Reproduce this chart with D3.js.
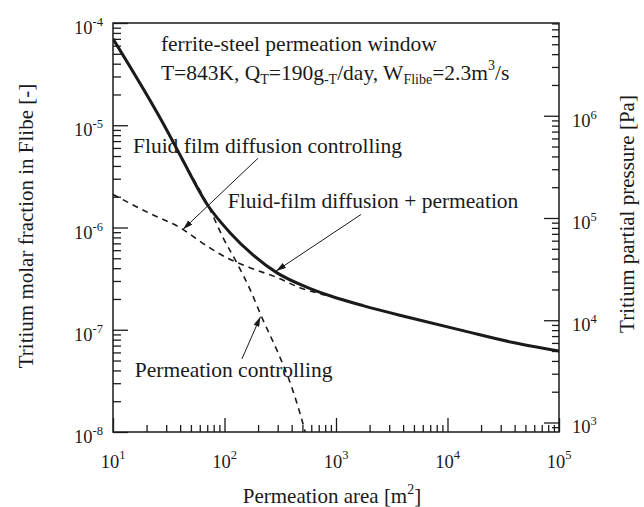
<!DOCTYPE html>
<html>
<head>
<meta charset="utf-8">
<script src="https://cdn.jsdelivr.net/npm/d3@7"></script>
<style>
  body { margin: 0; background: #fff; }
  text { font-family: "Liberation Serif", "Times New Roman", serif; fill: #1a1a1a; }
  .axis path { display: none; }
  .axis line { stroke: #1a1a1a; stroke-width: 1.3; }
</style>
</head>
<body>
<svg width="644" height="507"></svg>
<script>
// permeation area [m2]
var totalArea = [10, 30.5, 41.6, 71, 112, 180, 296, 550, 883, 1746, 4613, 13770, 38640, 100000];
var totalFrac = [7.0e-5, 8.9e-6, 4.7e-6, 1.64e-6, 8.9e-7, 5.4e-7, 3.6e-7, 2.6e-7, 2.15e-7, 1.72e-7, 1.31e-7, 9.8e-8, 7.5e-8, 6.2e-8];

// shallow dashed curve (fluid film diffusion)
var filmArea = [10, 21.5, 41.6, 64, 105, 169, 296, 475, 719, 1000, 1746, 4613, 13770, 38640, 100000];
var filmFrac = [2.1e-6, 1.37e-6, 9.7e-7, 7.0e-7, 5.05e-7, 4.05e-7, 3.24e-7, 2.58e-7, 2.25e-7, 2.06e-7, 1.72e-7, 1.31e-7, 9.8e-8, 7.5e-8, 6.2e-8];

// steep dashed curve (permeation)
var permArea = [41.6, 74, 97, 132, 169, 217, 302, 403, 475, 530];
var permFrac = [4.6e-6, 1.5e-6, 7.98e-7, 4.3e-7, 2.5e-7, 1.31e-7, 5.96e-8, 2.70e-8, 1.53e-8, 1.0e-8];

var xTickExp = [1, 2, 3, 4, 5];
var yLeftExp = [-8, -7, -6, -5, -4];
var yRightExp = [3, 4, 5, 6];

var svg = d3.select("svg");
var margin = {left: 113, top: 23, right: 85, bottom: 75};
var width = 644 - margin.left - margin.right,
    height = 507 - margin.top - margin.bottom;

var g = svg.append("g").attr("transform", `translate(${margin.left},${margin.top})`);

var x = d3.scaleLog().domain([10, 1e5]).range([0, width]);
var y = d3.scaleLog().domain([1e-8, 1e-4]).range([height, 0]);
var yR = d3.scaleLog().domain([Math.pow(10, 2.907), Math.pow(10, 6.907)]).range([height, 0]);

function isMajor(v) { return Math.abs(Math.log10(v) - Math.round(Math.log10(v))) < 1e-6; }

// ticks: majors longer than minors, all pointing inward
function drawTicks(axisFn, scale, cls, transform, majLen, minLen) {
  var all = scale.ticks();
  var maj = all.filter(isMajor), min = all.filter(d => !isMajor(d));
  g.append("g").attr("class", "axis " + cls).attr("transform", transform)
    .call(axisFn(scale).tickValues(maj).tickSize(-majLen).tickFormat(""));
  g.append("g").attr("class", "axis " + cls).attr("transform", transform)
    .call(axisFn(scale).tickValues(min).tickSize(-minLen).tickFormat(""));
}
drawTicks(d3.axisLeft, y, "yl", "translate(0,0)", 15, 8);
drawTicks(d3.axisRight, yR, "yr", `translate(${width},0)`, 15, 7);
drawTicks(d3.axisBottom, x, "xb", `translate(0,${height})`, 14, 7);

g.append("rect").attr("width", width).attr("height", height)
  .attr("fill", "none").attr("stroke", "#1a1a1a").attr("stroke-width", 1.5);

// tick labels with superscript exponents
g.selectAll(".ylab").data(yLeftExp).enter().append("text")
  .attr("x", -10).attr("y", d => y(Math.pow(10, d)) + 11)
  .attr("text-anchor", "end").style("font-size", "18.5px")
  .each(function(d) {
    var t = d3.select(this);
    t.append("tspan").text("10");
    t.append("tspan").attr("dy", -8).style("font-size", "12.5px").text(d);
  });

g.selectAll(".yrlab").data(yRightExp).enter().append("text")
  .attr("x", width + 13).attr("y", d => yR(Math.pow(10, d)) + 11)
  .style("font-size", "18.5px")
  .each(function(d) {
    var t = d3.select(this);
    t.append("tspan").text("10");
    t.append("tspan").attr("dy", -8).style("font-size", "12.5px").text(d);
  });

g.selectAll(".xlab").data(xTickExp).enter().append("text")
  .attr("x", d => x(Math.pow(10, d))).attr("y", height + 36)
  .attr("text-anchor", "middle").style("font-size", "18.5px")
  .each(function(d) {
    var t = d3.select(this);
    t.append("tspan").text("10");
    t.append("tspan").attr("dy", -9).style("font-size", "12.5px").text(d);
  });

// axis titles
var xt = svg.append("text").attr("x", 332).attr("y", 503).attr("text-anchor", "middle").style("font-size", "21px");
xt.append("tspan").text("Permeation area [m");
xt.append("tspan").attr("dy", -9).style("font-size", "14px").text("2");
xt.append("tspan").attr("dy", 9).text("]");

svg.append("text").attr("transform", "translate(33,226) rotate(-90)")
  .attr("text-anchor", "middle").style("font-size", "21px")
  .text("Tritium molar fraction in Flibe [-]");

svg.append("text").attr("transform", "translate(634,214) rotate(-90)")
  .attr("text-anchor", "middle").style("font-size", "21px")
  .text("Tritium partial pressure [Pa]");

// curves
var clip = svg.append("clipPath").attr("id", "plotclip");
clip.append("rect").attr("width", width).attr("height", height);
var plot = g.append("g").attr("clip-path", "url(#plotclip)");

var line = d3.line().x(d => x(d[0])).y(d => y(d[1])).curve(d3.curveMonotoneX);

plot.append("path").datum(d3.zip(filmArea, filmFrac)).attr("d", line)
  .attr("fill", "none").attr("stroke", "#1a1a1a").attr("stroke-width", 1.6).attr("stroke-dasharray", "6,5");
plot.append("path").datum(d3.zip(permArea, permFrac)).attr("d", line)
  .attr("fill", "none").attr("stroke", "#1a1a1a").attr("stroke-width", 1.6).attr("stroke-dasharray", "6,5");
plot.append("path").datum(d3.zip(totalArea, totalFrac)).attr("d", line)
  .attr("fill", "none").attr("stroke", "#1a1a1a").attr("stroke-width", 3);

// annotations: [textArea, textFrac, label]
var notes = [
  [15.1, 5.3e-6, "Fluid film diffusion controlling"],
  [107, 1.55e-6, "Fluid-film diffusion + permeation"],
  [15.7, 3.46e-8, "Permeation controlling"]
];
g.selectAll(".note").data(notes).enter().append("text")
  .attr("x", d => x(d[0])).attr("y", d => y(d[1]))
  .style("font-size", "21.5px").text(d => d[2]);

// arrows: [tailArea, tailFrac, tipArea, tipFrac]
var arrows = [
  [199.5, 4.75e-6, 42.5, 9.6e-7],
  [1675, 1.34e-6, 290, 3.75e-7],
  [143.5, 5.2e-8, 210, 1.34e-7]
];
svg.append("defs").append("marker").attr("id", "head")
  .attr("viewBox", "0 0 10 6").attr("refX", 10).attr("refY", 3)
  .attr("markerWidth", 10).attr("markerHeight", 6).attr("markerUnits", "userSpaceOnUse")
  .attr("orient", "auto")
  .append("path").attr("d", "M0,0L10,3L0,6Z").attr("fill", "#1a1a1a");
g.selectAll(".arrow").data(arrows).enter().append("line")
  .attr("x1", d => x(d[0])).attr("y1", d => y(d[1]))
  .attr("x2", d => x(d[2])).attr("y2", d => y(d[3]))
  .attr("stroke", "#1a1a1a").attr("stroke-width", 1).attr("marker-end", "url(#head)");

// header text
var head = g.append("g");
head.append("text").attr("x", x(26.9)).attr("y", y(5.31e-5)).style("font-size", "21.5px")
  .text("ferrite-steel permeation window");
var l2 = head.append("text").attr("x", x(26.9)).attr("y", y(2.76e-5)).style("font-size", "21.5px");
l2.append("tspan").text("T=843K, Q");
l2.append("tspan").attr("dy", 4).style("font-size", "14px").text("T");
l2.append("tspan").attr("dy", -4).text("=190g");
l2.append("tspan").attr("dy", 4).style("font-size", "14px").text("-T");
l2.append("tspan").attr("dy", -4).text("/day, W");
l2.append("tspan").attr("dy", 4).style("font-size", "14px").text("Flibe");
l2.append("tspan").attr("dy", -4).text("=2.3m");
l2.append("tspan").attr("dy", -10).style("font-size", "14px").text("3");
l2.append("tspan").attr("dy", 10).text("/s");
</script>
</body>
</html>
